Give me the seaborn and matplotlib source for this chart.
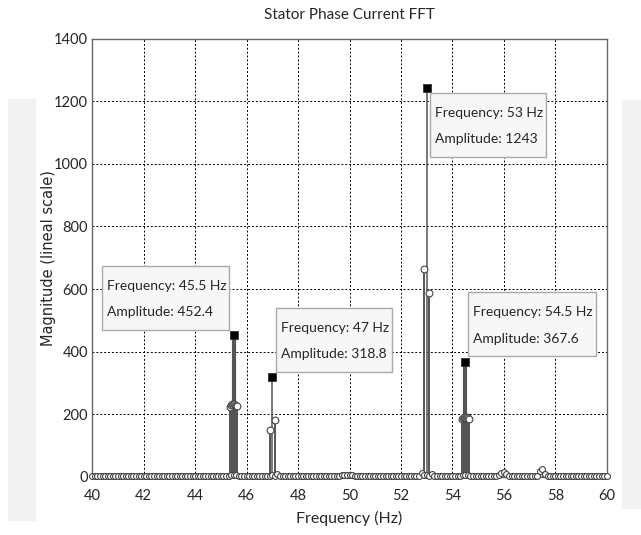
import numpy as np
import matplotlib
matplotlib.use("Agg")
import matplotlib.pyplot as plt
from matplotlib.patches import Rectangle
import seaborn as sns

# ====== Data ======
# background bins, 0.1 Hz apart from 40 to 60 Hz
floor_freqs = np.round(np.linspace(40.0, 60.0, 201), 1)
floor_amps = [
    3, 3, 3, 3, 3, 3, 3, 3, 3, 3,      # 40.x
    3, 3, 3, 3, 3, 3, 3, 3, 3, 3,      # 41.x
    3, 3, 3, 3, 3, 3, 3, 3, 3, 3,      # 42.x
    3, 3, 3, 3, 3, 3, 3, 3, 3, 3,      # 43.x
    3, 3, 3, 3, 3, 3, 3, 3, 3, 3,      # 44.x
    3, 3, 3, 4, 5, 6, 5, 4, 3, 3,      # 45.x
    3, 3, 3, 3, 3, 3, 3, 3, 4, 4,      # 46.x
    5, 4, 10, 4, 3, 3, 3, 3, 3, 3,     # 47.x
    3, 3, 3, 3, 3, 3, 3, 3, 3, 3,      # 48.x
    3, 3, 3, 3, 3, 3, 4, 5, 5, 6,      # 49.x
    6, 5, 4, 3, 3, 3, 3, 3, 3, 3,      # 50.x
    3, 3, 3, 3, 3, 3, 3, 3, 3, 3,      # 51.x
    3, 3, 3, 3, 3, 3, 3, 4, 12, 5,     # 52.x
    5, 4, 8, 3, 3, 3, 3, 3, 3, 3,      # 53.x
    3, 3, 3, 4, 5, 6, 5, 4, 3, 3,      # 54.x
    3, 3, 3, 3, 3, 3, 3, 4, 6, 12,     # 55.x
    15, 8, 4, 3, 3, 3, 3, 3, 3, 3,     # 56.x
    3, 3, 3, 3, 18, 25, 10, 4, 3, 3,   # 57.x
    3, 3, 3, 3, 3, 3, 3, 3, 3, 3,      # 58.x
    3, 3, 3, 3, 3, 3, 3, 3, 3, 3,      # 59.x
    3,                                 # 60.0
]

# side-band stems around the main components
peak_freqs = [45.36, 45.40, 45.44, 45.48, 45.52, 45.56, 45.60, 45.64,
              46.90, 47.10,
              52.90, 53.10,
              54.36, 54.40, 54.44, 54.48, 54.52, 54.56, 54.60, 54.64]
peak_amps = [224, 229, 232, 230, 233, 231, 228, 226,
             150, 182,
             663, 587,
             185, 188, 190, 187, 189, 191, 188, 186]

# data tips
tip_freqs = [45.5, 47.0, 53.0, 54.5]
tip_amps = [452.4, 318.8, 1243, 367.6]
tip_labels = ["Frequency: 45.5 Hz\nAmplitude: 452.4",
              "Frequency: 47 Hz\nAmplitude: 318.8",
              "Frequency: 53 Hz\nAmplitude: 1243",
              "Frequency: 54.5 Hz\nAmplitude: 367.6"]

x_ticks = [40, 42, 44, 46, 48, 50, 52, 54, 56, 58, 60]
y_ticks = [0, 200, 400, 600, 800, 1000, 1200, 1400]

# ====== Style / layout ======
sns.set_style("white")
narrow = ["Lato", "DejaVu Sans"]
plt.rcParams["font.family"] = narrow

W, H = 641, 535
AX_L, AX_R, AX_T, AX_B = 92.3, 606.7, 38.5, 477.0

# data-tip boxes in pixels: left, top, width, height
tip_boxes = [(101.7, 265.7, 127, 64), (276, 307.7, 116, 64),
             (430, 92.7, 116, 64), (468.3, 292.3, 128, 64)]
tip_stem_lw = [3.0, 1.1, 1.1, 3.0]


def px_to_data(px, py):
    x = 40 + (px - AX_L) * 20 / (AX_R - AX_L)
    y = (AX_B - py) * 1400 / (AX_B - AX_T)
    return x, y


fig = plt.figure(figsize=(6.41, 5.35), dpi=100)

# faint watermark panels at both edges
fig.patches.append(Rectangle((8 / W, 1 - 520 / H), 27 / W, 421 / H,
                             transform=fig.transFigure, color="#f2f2f2", zorder=-1))
fig.patches.append(Rectangle((622 / W, 1 - 508 / H), 19 / W, 408 / H,
                             transform=fig.transFigure, color="#f2f2f2", zorder=-1))

ax = fig.add_axes([AX_L / W, 1 - AX_B / H, (AX_R - AX_L) / W, (AX_B - AX_T) / H])

# stems
ax.vlines(floor_freqs, 0, floor_amps, color="#666666", lw=0.8, zorder=2)
ax.vlines(peak_freqs, 0, peak_amps, color="#555555", lw=1.4, zorder=2)
ax.vlines(tip_freqs, 0, tip_amps, color="#555555", lw=tip_stem_lw, zorder=2)
ax.axhline(0, color="#666666", lw=1, zorder=2)

# open circle markers
sns.scatterplot(x=floor_freqs, y=floor_amps, marker="o", s=18, color="white",
                edgecolor="#444444", linewidth=0.8, ax=ax, zorder=3, clip_on=False)
sns.scatterplot(x=peak_freqs, y=peak_amps, marker="o", s=24, color="white",
                edgecolor="#444444", linewidth=0.8, ax=ax, zorder=3)

# data tip squares
sns.scatterplot(x=tip_freqs, y=tip_amps, marker="s", s=30, color="black",
                edgecolor="#333333", linewidth=0.6, ax=ax, zorder=4)

# data tip boxes
for (bl, bt, bw, bh), txt in zip(tip_boxes, tip_labels):
    x0, y1 = px_to_data(bl, bt)
    x1, y0 = px_to_data(bl + bw, bt + bh)
    ax.add_patch(Rectangle((x0, y0), x1 - x0, y1 - y0, facecolor="#f7f7f7",
                           edgecolor="#aaaaaa", lw=1, zorder=5))
    for k, line in enumerate(txt.split("\n")):
        tx, ty = px_to_data(bl + 5, bt + 20 + 26.5 * k)
        ax.text(tx, ty, line, ha="left", va="center", fontsize=10,
                family=narrow, zorder=6)

ax.set_xlim(40, 60)
ax.set_ylim(0, 1400)
ax.set_xticks(x_ticks)
ax.set_yticks(y_ticks)
ax.tick_params(labelsize=10.5, direction="in", length=3, color="#555555")
ax.tick_params(axis="y", pad=3)
ax.tick_params(axis="x", pad=9)
ax.grid(True, color="black", linestyle=(0, (2, 2)), lw=0.7)
ax.set_axisbelow(True)
for s in ax.spines.values():
    s.set_color("#666666")
    s.set_linewidth(1)

ax.set_title("Stator Phase Current FFT", fontsize=11, pad=14)
ax.set_xlabel("Frequency (Hz)", fontsize=11.5, labelpad=5)
ax.set_ylabel("Magnitude (lineal scale)", fontsize=10.5,
              family=["DejaVu Sans"], labelpad=-1)

fig.savefig("out.png", dpi=100)
